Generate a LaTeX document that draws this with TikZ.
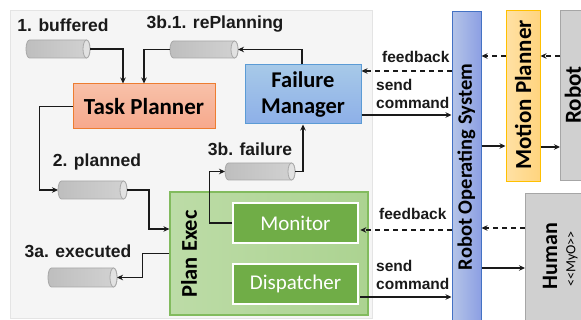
\documentclass[tikz,border=0pt]{standalone}
\usepackage{fontspec}
\setmainfont{Liberation Sans}
\newfontfamily\carl{Carlito}
\usetikzlibrary{shapes.geometric,arrows.meta,calc}
\definecolor{panel}{HTML}{F5F5F5}
\definecolor{panelb}{HTML}{E4E4E4}
\definecolor{tpf}{HTML}{F6B193}
\definecolor{tpd}{HTML}{ED7D31}
\definecolor{fmf}{HTML}{9DC3E6}
\definecolor{fmd}{HTML}{5B9BD5}
\definecolor{pef}{HTML}{ACD391}
\definecolor{ped}{HTML}{82BB5E}
\definecolor{mon}{HTML}{70AD47}
\definecolor{rosf}{HTML}{9CB1E0}
\definecolor{rosd}{HTML}{4472C4}
\definecolor{mpf}{HTML}{FFD47E}
\definecolor{mpd}{HTML}{FFC000}
\definecolor{grf}{HTML}{D0D0D0}
\definecolor{grd}{HTML}{A6A6A6}
\definecolor{cylL}{HTML}{BEBEBE}
\definecolor{cylR}{HTML}{D2D2D2}
\definecolor{cyle}{HTML}{E2E2E2}
\definecolor{cyld}{HTML}{A8A8A8}
\definecolor{ink}{HTML}{1A1A1A}
% cylinder drawn on a named rectangle node: #1 node name, #2 half height
\newcommand\mkcyl[2]{%
  \path[left color=cylL, right color=cylR, draw=cyld, line width=0.8pt]
    ([xshift=3.5pt]#1.north west) arc[start angle=90,end angle=270,x radius=3.5pt,y radius=#2]
    -- ([xshift=-3.5pt]#1.south east) arc[start angle=270,end angle=450,x radius=3.5pt,y radius=#2] -- cycle;
  \path[fill=cyle, draw=cyld, line width=0.8pt] ([xshift=-3.5pt]#1.east) ellipse[x radius=3.5pt, y radius=#2];
}
\begin{document}
\begin{tikzpicture}[x=1pt,y=-1pt,
  lbl/.style={font=\bfseries\fontsize{17.5}{19}\selectfont, text=ink, inner sep=0pt},
  slbl/.style={font=\bfseries\fontsize{15.5}{17.5}\selectfont, text=ink, align=left, inner sep=0pt, anchor=west},
  box/.style={inner sep=0pt, line width=1pt},
  boxtxt/.style={font=\carl\bfseries\fontsize{22.5}{26}\selectfont, text=black, align=center},
  subbox/.style={box, fill=mon, draw=white, line width=1.6pt, minimum width=125pt, minimum height=40pt,
     font=\carl\fontsize{21}{22}\selectfont, text=white},
  cyl/.style={rectangle, inner sep=0pt, outer sep=0pt},
  arr/.style={draw=ink, line width=1.1pt, -{Stealth[length=6pt,width=5.5pt]}},
  darr/.style={arr, dash pattern=on 5pt off 4pt}
]
\useasboundingbox (0,0) rectangle (581,320);
% background panel
\node[box, fill=panel, draw=panelb, minimum width=362pt, minimum height=308pt, anchor=north west] (bg) at (10,10) {};

% main boxes
\node[box, top color=tpf!80!white, bottom color=tpf!95!red, draw=tpd, minimum width=142pt, minimum height=45pt, boxtxt, font=\carl\bfseries\fontsize{23}{26}\selectfont] (tp) at (144,106.5) {Task Planner};
\node[box, top color=fmf!90!white, bottom color=fmf!90!blue, draw=fmd, minimum width=116pt, minimum height=59pt, boxtxt] (fm) at (303,94.5) {Failure\\Manager};
\node[box, left color=pef!80!white, right color=pef, draw=ped, line width=1.2pt, minimum width=198pt, minimum height=123pt] (pe) at (269,253.5) {};
\node[boxtxt, rotate=90, inner sep=0pt] (pet) at (189,254) {Plan Exec};
\node[subbox] (mon) at (295.5,223) {Monitor};
\node[subbox] (dis) at (295.5,284) {Dispatcher};

\node[box, left color=rosf!75!white, right color=rosf!90!blue, draw=rosd, minimum width=29pt, minimum height=320pt] (ros) at (466.5,172) {};
\node[boxtxt, rotate=90, inner sep=0pt, font=\carl\bfseries\fontsize{20.5}{22}\selectfont] (rost) at (466.5,167) {Robot Operating System};
\node[box, left color=mpf!70!white, right color=mpf, draw=mpd, minimum width=34pt, minimum height=171pt] (mp) at (523,96) {};
\node[boxtxt, rotate=90, inner sep=0pt, font=\carl\bfseries\fontsize{23}{25}\selectfont] (mpt) at (523,95) {Motion Planner};
\node[box, fill=grf, draw=grd, minimum width=44pt, minimum height=170pt, anchor=north west] (rob) at (560,10) {};
\node[boxtxt, rotate=90, inner sep=0pt, font=\carl\bfseries\fontsize{23}{25}\selectfont] (robt) at (573,95) {Robot};
\node[box, fill=grf, draw=grd, minimum width=80pt, minimum height=140pt, anchor=north west] (hum) at (525,193) {};
\node[rotate=90, inner sep=0pt, text=black, font=\carl\bfseries\fontsize{22}{24}\selectfont] (humt) at (550,256) {Human};
\node[rotate=90, inner sep=0pt, text=black, font=\carl\fontsize{14}{15}\selectfont] (myo) at (572,259) {<\kern0pt<MyO>\kern0pt>};

% cylinders
\node[cyl, minimum width=64pt, minimum height=18pt] (buf) at (58,49) {};
\node[cyl, minimum width=68pt, minimum height=17pt] (rep) at (204,49.5) {};
\node[cyl, minimum width=69pt, minimum height=18pt] (pl) at (92.5,190) {};
\node[cyl, minimum width=69pt, minimum height=19pt] (ex) at (82.5,277.5) {};
\node[cyl, minimum width=70pt, minimum height=17pt] (fail) at (260,171.5) {};
\mkcyl{buf}{9pt}
\mkcyl{rep}{8.5pt}
\mkcyl{pl}{9pt}
\mkcyl{ex}{9.5pt}
\mkcyl{fail}{8.5pt}

% labels
\node[lbl] (lbuf) at (63,25) {1. buffered};
\node[lbl] (lrep) at (215,24) {3b.1. rePlanning};
\node[lbl] (lpl) at (97,162) {2. planned};
\node[lbl] (lex) at (78,251) {3a. executed};
\node[lbl] (lfail) at (250,149) {3b. failure};
\node[slbl] (fb1) at (382,57) {feedback};
\node[slbl] (sc1) at (376,94) {send\\command};
\node[slbl] (fb2) at (379,214) {feedback};
\node[slbl] (sc2) at (376,275) {send\\command};

% connectors left side
\draw[arr] (buf.east) -| ([xshift=-21pt]tp.north);
\draw[arr] ([xshift=-1pt]fm.north) |- (rep.east);
\draw[arr] (rep.west) -| (tp.north);
\draw[arr] (tp.west) -- ++(-33,0) |- (pl.west);
\draw[arr] (pl.east) -- ++(22,0) |- ([yshift=24.5pt]pe.west);
\draw[arr] (pe.west) -- ++(-27,0) |- (ex.east);
\draw[arr] (mon.west) -- ++(-23,0) |- (fail.west);
\draw[arr] (fail.east) -| (fm.south);

% connectors to/from ROS
\coordinate (fmfb) at ([yshift=23.5pt]fm.east);
\coordinate (fmsc) at ([yshift=-20.5pt]fm.east);
\draw[darr] (fmfb -| ros.west) -- (fmfb);
\draw[arr] (fmsc) -- (fmsc -| ros.west);
\coordinate (monfb) at ([yshift=-7pt,xshift=1.5pt]mon.east);
\coordinate (dissc) at ([yshift=-13pt,xshift=1.5pt]dis.east);
\draw[darr] (monfb -| ros.west) -- (monfb);
\draw[arr] (dissc) -- (dissc -| ros.west);

\coordinate (mpfb) at ([yshift=40pt]mp.west);
\coordinate (mpsc) at ([yshift=-50pt]mp.west);
\draw[darr] (mpfb) -- (mpfb -| ros.east);
\draw[arr] (mpsc -| ros.east) -- (mpsc);
\coordinate (rbfb) at ([yshift=40pt]mp.east);
\coordinate (rbsc) at ([yshift=-51pt]mp.east);
\draw[darr] (rbfb -| rob.west) -- (rbfb);
\draw[arr] (rbsc) -- (rbsc -| rob.west);
\coordinate (hufb) at ([yshift=-35pt]hum.north west);
\coordinate (husc) at ([yshift=-75pt]hum.north west);
\draw[darr] (hufb) -- (hufb -| ros.east);
\draw[arr] (husc -| ros.east) -- (husc);
\end{tikzpicture}
\end{document}
